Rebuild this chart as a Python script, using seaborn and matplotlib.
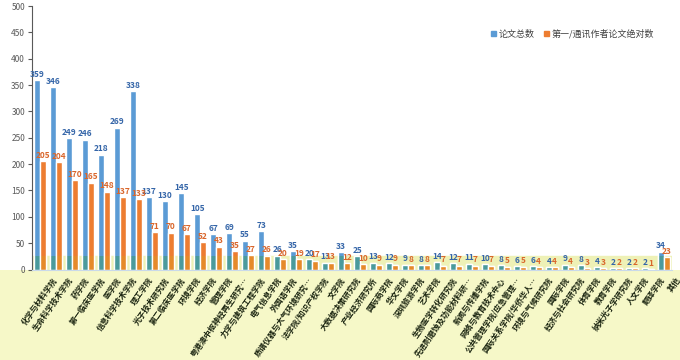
import matplotlib
matplotlib.use("Agg")
import matplotlib.pyplot as plt
import matplotlib.patches as mpatches
import matplotlib.transforms as mtransforms
import seaborn as sns
import pandas as pd

categories = [
    "化学与材料学院", "生命科学技术学院", "药学院", "第一临床医学院", "医学院",
    "信息科学技术学院", "理工学院", "光子技术研究院", "第二临床医学院", "环境学院",
    "经济学院", "管理学院", "粤港澳中枢神经再生研究…", "力学与建筑工程学院", "电气信息学院",
    "外国语学院", "质谱仪器与大气环境研究…", "法学院/知识产权学院", "文学院", "大数据决策研究院",
    "产业经济研究所", "国际商学院", "华文学院", "深圳旅游学院", "艺术学院",
    "生物医学转化研究院", "先进耐磨蚀及功能材料研…", "新闻与传播学院", "网络与教育技术中心", "公共管理学院/应急管理…",
    "国际关系学院/华侨华人…", "环境与气候研究院", "国际学院", "经济与社会研究院", "体育学院",
    "教育学院", "纳米光子学研究院", "人文学院", "翻译学院", "其他",
]
total_papers = [359, 346, 249, 246, 218, 269, 338, 137, 130, 145,
                105, 67, 69, 55, 73, 26, 35, 20, 13, 33,
                25, 13, 12, 9, 8, 14, 12, 11, 10, 8,
                6, 6, 4, 9, 8, 4, 2, 2, 2, 34]
first_author = [205, 204, 170, 165, 148, 137, 133, 71, 70, 67,
                52, 43, 35, 27, 26, 20, 19, 17, 13, 12,
                10, 9, 9, 8, 8, 7, 7, 7, 7, 5,
                5, 4, 4, 4, 3, 3, 2, 2, 1, 23]
series_names = ["论文总数", "第一/通讯作者论文绝对数"]
yticks = list(range(0, 501, 50))

df = pd.DataFrame({
    "学院": categories * 2,
    "系列": [series_names[0]] * len(categories) + [series_names[1]] * len(categories),
    "数量": total_papers + first_author,
})

sns.set_theme(style="white")
plt.rcParams["font.family"] = ["Noto Sans CJK SC", "DejaVu Sans"]

BLUE = "#5b9bd5"
ORANGE = "#ed7d31"

fig = plt.figure(figsize=(6.8, 3.6), dpi=100)
fig.patch.set_facecolor("white")
n = len(categories)
left = 32 / 680
width = 16 * n / 680
bottom = (360 - 269.5) / 360
height = (269.5 - 6) / 360
ax = fig.add_axes([left, bottom, width, height])

# yellow area below the plot
fig.patches.append(mpatches.Rectangle((0, 0), 1, bottom, transform=fig.transFigure,
                                      facecolor="#f6f8c8", edgecolor="none", zorder=-5))

sns.barplot(data=df, x="学院", y="数量", hue="系列", palette=[BLUE, ORANGE],
            width=0.7, saturation=1, ax=ax, legend=True)

main_containers = list(ax.containers)

# tinted band near the bottom
ax.axhspan(0, 25, color="#eef1b6", zorder=0)
sns.barplot(data=df, x="学院", y="数量", hue="系列", palette=["#4a9a9c", "#e58a2a"],
            width=0.7, saturation=1, ax=ax, legend=False)
clip = mpatches.Rectangle((-1, 0), n + 2, 25, transform=ax.transData)
for cont in ax.containers[2:]:
    for p in cont:
        p.set_clip_path(clip)

ax.bar_label(main_containers[0], labels=[str(v) for v in total_papers], padding=1,
             fontsize=6, color="#3465a8", fontweight="bold")
ax.bar_label(main_containers[1], labels=[str(v) for v in first_author], padding=1,
             fontsize=6, color="#d9662b", fontweight="bold")

ax.set_ylim(0, 500)
ax.set_xlim(-0.5, n - 0.5)
ax.set_yticks(yticks)
ax.set_yticklabels([str(v) for v in yticks], fontsize=6, color="#595959")
ax.set_xticks(range(n))
ax.set_xticklabels([])
label_tr = ax.get_xaxis_transform() + mtransforms.ScaledTranslation(0.15, -0.09, fig.dpi_scale_trans)
for i, name in enumerate(categories):
    ax.text(i, 0, name, transform=label_tr, rotation=55, ha="right", va="center",
            rotation_mode="anchor", fontsize=5.7, fontweight="bold", color="#1a2410",
            clip_on=False)
ax.tick_params(axis="y", length=3, width=0.8, color="#595959", pad=2, left=True)
ax.tick_params(axis="x", length=0, pad=3)
ax.set_xlabel("")
ax.set_ylabel("")
for side in ["top", "right"]:
    ax.spines[side].set_visible(False)
ax.spines["left"].set_color("#595959")
ax.spines["left"].set_linewidth(0.8)
ax.spines["bottom"].set_color("#c9d9ea")
ax.spines["bottom"].set_linewidth(0.8)

handles = [mpatches.Patch(color=BLUE), mpatches.Patch(color=ORANGE)]
ax.legend(handles, series_names, loc="center right",
          bbox_to_anchor=(662 / 680, 1 - 34 / 360), bbox_transform=fig.transFigure,
          ncol=2, frameon=False, fontsize=6.5, handlelength=0.55, handleheight=0.55,
          handletextpad=0.3, columnspacing=1.0, labelcolor="#404040")

fig.savefig("out.png", dpi=100)
